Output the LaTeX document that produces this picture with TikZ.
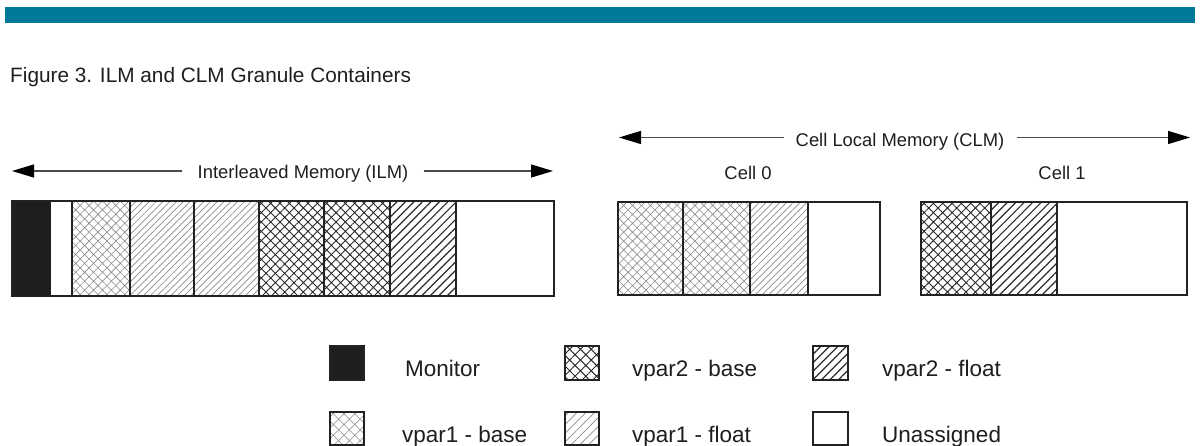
\documentclass[tikz,border=0pt]{standalone}
\usepackage{fontspec}
\setmainfont{Liberation Sans}
\usetikzlibrary{arrows.meta,patterns.meta}

\definecolor{band}{HTML}{007A99}
\definecolor{ink}{HTML}{1E1E1E}
\definecolor{rule}{HTML}{222222}
\definecolor{lightink}{HTML}{8A8A8A}
\definecolor{darkink}{HTML}{2A2A2A}
\definecolor{shaft}{HTML}{4A4A4A}

\tikzset{
  caption/.style={font=\fontsize{20.8}{24}\selectfont, text=ink, inner sep=0pt, anchor=base west},
  lbl/.style={font=\fontsize{18.4}{22}\selectfont, text=ink, inner ysep=0pt, anchor=base},
  key/.style={font=\fontsize{22.5}{26}\selectfont, text=ink, inner sep=0pt, anchor=base west},
  span/.style={draw=shaft, line width=1.3pt, -{Triangle[length=22pt,width=13pt,color=black]}},
  seg/.style={draw=rule, line width=1.3pt},
  swatch/.style={draw=rule, line width=1.2pt},
  mon/.style={fill=ink},
  free/.style={fill=white},
  % granule fills inside the memory bars
  pbaseA/.style={pattern={Hatch[angle=45,distance=6.3pt,line width=0.6pt]}, pattern color=lightink},
  pfloatA/.style={pattern={Lines[angle=45,distance=4.8pt,line width=0.7pt]}, pattern color=lightink},
  pbaseB/.style={pattern={Hatch[angle=45,distance=6.6pt,line width=0.9pt]}, pattern color=darkink},
  pfloatB/.style={pattern={Lines[angle=45,distance=6pt,line width=1.2pt]}, pattern color=darkink},
  % coarser fills for the legend swatches
  kbaseA/.style={pattern={Hatch[angle=45,distance=7.6pt,line width=0.6pt]}, pattern color=lightink},
  kfloatA/.style={pattern={Lines[angle=45,distance=6.2pt,line width=0.7pt]}, pattern color=lightink},
  kbaseB/.style={pattern={Hatch[angle=45,distance=7.6pt,line width=0.9pt]}, pattern color=darkink},
  kfloatB/.style={pattern={Lines[angle=45,distance=6pt,line width=1.2pt]}, pattern color=darkink},
}

\begin{document}
\begin{tikzpicture}[x=1pt,y=-1pt]
\useasboundingbox (0,0) rectangle (1204,446);

% header band and caption
\fill[band] (5,7) rectangle (1195,23);
\node[caption] (cap) at (10,83) {Figure 3. ILM and CLM Granule Containers};

% span labels with their arrows
\node[lbl, inner xsep=15pt] (ilm) at (303,179) {Interleaved Memory (ILM)};
\coordinate (ilmL) at (12,171);
\coordinate (ilmR) at (553,171);
\draw[span] (ilm.west |- ilmL) -- (ilmL);
\draw[span] (ilm.east |- ilmR) -- (ilmR);

\node[lbl, inner xsep=12pt] (clm) at (900,147) {Cell Local Memory (CLM)};
\coordinate (clmL) at (619,137.5);
\coordinate (clmR) at (1190,137.5);
\draw[span] (clm.west |- clmL) -- (clmL);
\draw[span] (clm.east |- clmR) -- (clmR);

\node[lbl] (cell0) at (748,180) {Cell 0};
\node[lbl] (cell1) at (1062,180) {Cell 1};

% interleaved memory granules
\fill[mon] (12,201) rectangle (51,296);
\path[pbaseA]  (72,201)  rectangle (130,296);
\path[pfloatA] (130,201) rectangle (194,296);
\path[pfloatA] (194,201) rectangle (259,296);
\path[pbaseB]  (259,201) rectangle (324,296);
\path[pbaseB]  (324,201) rectangle (390,296);
\path[pfloatB] (390,201) rectangle (456,296);
\foreach \x in {72,130,194,259,324,390,456}
  \draw[seg] (\x,201) -- (\x,296);
\draw[seg] (12,201) rectangle (554,296);

% cell 0 granules
\path[pbaseA]  (618,202) rectangle (683,295);
\path[pbaseA]  (683,202) rectangle (750,295);
\path[pfloatA] (750,202) rectangle (808,295);
\foreach \x in {683,750,808}
  \draw[seg] (\x,202) -- (\x,295);
\draw[seg] (618,202) rectangle (880,295);

% cell 1 granules
\path[pbaseB]  (921,202) rectangle (991,295);
\path[pfloatB] (991,202) rectangle (1057,295);
\foreach \x in {991,1057}
  \draw[seg] (\x,202) -- (\x,295);
\draw[seg] (921,202) rectangle (1187,295);

% legend
\path[swatch, mon]     (330,346) rectangle (364,380);
\node[key] (kmon) at (405,376) {Monitor};
\path[swatch, kbaseB]  (565,346) rectangle (599,380);
\node[key] (kb2) at (632,376) {vpar2 - base};
\path[swatch, kfloatB] (813,346) rectangle (848,380);
\node[key] (kf2) at (882,376) {vpar2 - float};

\path[swatch, kbaseA]  (330,412) rectangle (364,445);
\node[key] (kb1) at (402,442) {vpar1 - base};
\path[swatch, kfloatA] (565,412) rectangle (599,445);
\node[key] (kf1) at (632,442) {vpar1 - float};
\path[swatch, free]    (813,412) rectangle (848,445);
\node[key] (kfree) at (882,442) {Unassigned};
\end{tikzpicture}
\end{document}
